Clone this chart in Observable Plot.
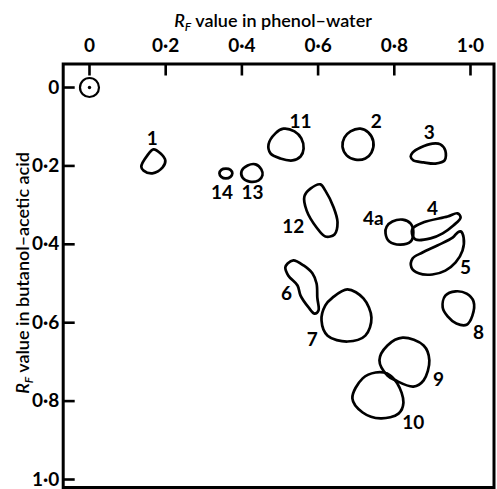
<!DOCTYPE html>
<html><head><meta charset="utf-8">
<script src="https://cdn.jsdelivr.net/npm/d3@7"></script>
<script src="https://cdn.jsdelivr.net/npm/@observablehq/plot@0.6"></script>
<style>body{margin:0;background:#fff}</style>
</head><body><div id="chart"></div>
<script>
// Axis ticks
const xTicks = [0, 0.2, 0.4, 0.6, 0.8, 1.0];
const xTickLabels = ["0", "0·2", "0·4", "0·6", "0·8", "1·0"];
const yTicks = [0, 0.2, 0.4, 0.6, 0.8, 1.0];
const yTickLabels = ["0", "0·2", "0·4", "0·6", "0·8", "1·0"];

// Origin (application point)
const originX = [0];
const originY = [0];

// Spot outlines, [Rf phenol-water, Rf butanol-acetic acid]
const spot1 = [[0.186,0.168],[0.199,0.186],[0.192,0.204],[0.165,0.219],[0.142,0.212],[0.136,0.202],[0.152,0.173],[0.168,0.158]];
const spot2 = [[0.685,0.112],[0.711,0.105],[0.732,0.115],[0.745,0.138],[0.740,0.166],[0.724,0.181],[0.698,0.184],[0.675,0.173],[0.664,0.151],[0.669,0.128]];
const spot3 = [[0.848,0.166],[0.869,0.153],[0.900,0.143],[0.921,0.145],[0.934,0.161],[0.932,0.186],[0.908,0.194],[0.877,0.191],[0.850,0.186],[0.843,0.176]];
const spot4 = [[0.848,0.360],[0.877,0.344],[0.940,0.329],[0.966,0.321],[0.974,0.332],[0.955,0.352],[0.927,0.372],[0.895,0.385],[0.856,0.388],[0.848,0.378]];
const spot4a = [[0.795,0.342],[0.822,0.337],[0.843,0.347],[0.850,0.370],[0.843,0.393],[0.816,0.401],[0.787,0.393],[0.777,0.372],[0.780,0.355]];
const spot5 = [[0.974,0.367],[0.982,0.383],[0.979,0.416],[0.961,0.446],[0.934,0.467],[0.900,0.477],[0.864,0.474],[0.845,0.459],[0.848,0.436],[0.874,0.421],[0.913,0.403],[0.953,0.383],[0.966,0.370]];
const spot6 = [[0.520,0.449],[0.535,0.441],[0.562,0.454],[0.585,0.474],[0.596,0.500],[0.598,0.536],[0.601,0.569],[0.591,0.577],[0.575,0.561],[0.554,0.531],[0.546,0.505],[0.522,0.480],[0.514,0.459]];
const spot7 = [[0.677,0.515],[0.719,0.538],[0.740,0.587],[0.724,0.633],[0.677,0.648],[0.625,0.633],[0.609,0.594],[0.619,0.556],[0.638,0.536]];
const spot8 = [[0.934,0.531],[0.961,0.520],[0.990,0.526],[1.008,0.546],[1.005,0.582],[0.990,0.605],[0.963,0.602],[0.940,0.584],[0.927,0.561]];
const spot9 = [[0.822,0.638],[0.877,0.658],[0.892,0.696],[0.877,0.747],[0.850,0.763],[0.803,0.747],[0.782,0.735],[0.761,0.696],[0.782,0.658]];
const spot10 = [[0.751,0.727],[0.782,0.730],[0.808,0.755],[0.824,0.804],[0.811,0.832],[0.764,0.844],[0.717,0.829],[0.690,0.793],[0.717,0.742]];
const spot11 = [[0.488,0.117],[0.509,0.105],[0.538,0.112],[0.556,0.130],[0.562,0.156],[0.554,0.176],[0.533,0.186],[0.501,0.181],[0.475,0.168],[0.470,0.145]];
const spot12 = [[0.580,0.258],[0.606,0.247],[0.619,0.263],[0.640,0.304],[0.651,0.344],[0.643,0.375],[0.619,0.380],[0.596,0.357],[0.570,0.314],[0.564,0.278]];
const spot13 = [[0.415,0.199],[0.436,0.196],[0.451,0.209],[0.454,0.224],[0.444,0.237],[0.420,0.240],[0.402,0.230],[0.399,0.214]];
const spot14 = [[0.341,0.219],[0.346,0.210],[0.358,0.207],[0.370,0.210],[0.375,0.219],[0.370,0.228],[0.358,0.232],[0.346,0.228]];

const spotIds = ["1","2","3","4","4a","5","6","7","8","9","10","11","12","13","14"];
const spotOutlines = [spot1, spot2, spot3, spot4, spot4a, spot5, spot6, spot7, spot8, spot9, spot10, spot11, spot12, spot13, spot14];

// Spot labels
const labelText = ["1","2","3","4","4a","5","6","7","8","9","10","11","12","13","14"];
const labelX = [0.165, 0.753, 0.892, 0.900, 0.745, 0.987, 0.517, 0.585, 1.021, 0.916, 0.850, 0.554, 0.535, 0.428, 0.348];
const labelY = [0.130, 0.089, 0.115, 0.309, 0.334, 0.459, 0.526, 0.645, 0.625, 0.747, 0.855, 0.089, 0.355, 0.270, 0.270];

const outlineRows = spotIds.flatMap((id, i) => spotOutlines[i].map(([x, y]) => ({spot: id, x, y})));
const labels = labelText.map((t, i) => ({t, x: labelX[i], y: labelY[i]}));
const origin = originX.map((x, i) => ({x, y: originY[i]}));

const W = 497, H = 489;
const mL = 62.7, mR = 3.5, mT = 63.5, mB = 2;
const frameW = W - mL - mR, frameH = H - mT - mB;
const FONT = "Lato, 'Open Sans', sans-serif";

const plot = Plot.plot({
  width: W, height: H,
  marginLeft: mL, marginRight: mR, marginTop: mT, marginBottom: mB,
  x: {domain: [-0.069, 1.0617]},
  y: {domain: [-0.060, 1.0204], reverse: true},
  style: {fontFamily: FONT, fontSize: "19px", color: "black", background: "white"},
  marks: [
    Plot.frame({stroke: "black", strokeWidth: 3}),
    Plot.tickX(xTicks, {x: d => d, insetBottom: frameH - 12, stroke: "black", strokeWidth: 2.6}),
    Plot.tickY(yTicks, {y: d => d, insetRight: frameW - 12, stroke: "black", strokeWidth: 2.6}),
    Plot.axisX(xTicks, {anchor: "top", tickSize: 0, tickPadding: 12, label: null,
      tickFormat: d => xTickLabels[xTicks.indexOf(d)], fontWeight: "bold", fontSize: 19}),
    Plot.axisY(yTicks, {anchor: "left", tickSize: 0, tickPadding: 4, label: null,
      tickFormat: d => yTickLabels[yTicks.indexOf(d)], fontWeight: "bold", fontSize: 19}),
    Plot.line(outlineRows, {x: "x", y: "y", z: "spot", curve: "catmull-rom-closed", stroke: "black", strokeWidth: 2.7}),
    Plot.dot(origin, {x: "x", y: "y", r: 9.5, stroke: "black", strokeWidth: 2.2, fill: "none"}),
    Plot.dot(origin, {x: "x", y: "y", r: 1.7, fill: "black", stroke: "none"}),
    Plot.text(labels, {x: "x", y: "y", text: "t", fontWeight: "bold", fontSize: 19, fill: "black"})
  ]
});

document.getElementById("chart").appendChild(plot);

// Axis titles with italic R subscript F
const svg = d3.select(plot);
function title(sel, rest) {
  sel.append("tspan").attr("font-style", "italic").text("R");
  sel.append("tspan").attr("font-style", "italic").attr("font-size", 12).attr("dy", 4).text("F");
  sel.append("tspan").attr("dy", -4).text(rest);
}
const tTop = svg.append("text")
  .attr("x", 273).attr("y", 27)
  .attr("text-anchor", "middle")
  .attr("font-family", FONT).attr("font-size", 18).attr("font-weight", 600).attr("fill", "black");
title(tTop, " value in phenol–water");
const tLeft = svg.append("text")
  .attr("transform", "translate(29,273) rotate(-90)")
  .attr("text-anchor", "middle")
  .attr("font-family", FONT).attr("font-size", 18).attr("font-weight", 600).attr("fill", "black");
title(tLeft, " value in butanol–acetic acid");
</script></body></html>
